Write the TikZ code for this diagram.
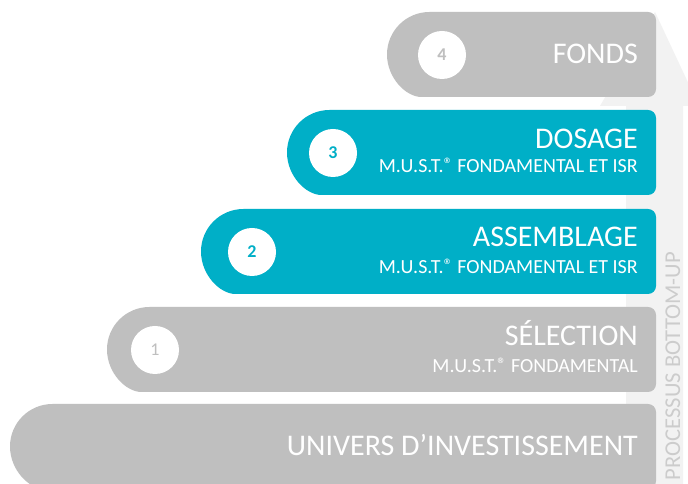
\documentclass[tikz,border=0pt]{standalone}
\usepackage{fontspec}
\setmainfont{Carlito}
\usepackage{tikz}
\definecolor{qqafc7}{rgb}{0.,0.686,0.780}
\definecolor{bfbfbf}{rgb}{0.749,0.749,0.749}
\definecolor{f2f2f2}{rgb}{0.949,0.949,0.949}
\definecolor{cccccc}{rgb}{0.8,0.8,0.8}
\newcommand{\stagebar}[3]{\fill[color=#3] (#1+42.5,#2) arc[start angle=270,end angle=90,radius=42.5pt] [rounded corners=8pt] -- (656,#2+85) -- (656,#2) -- cycle;}
\newcommand{\regmark}{\raisebox{2pt}{\fontsize{18}{18}\selectfont ®}}
\tikzstyle{every node}=[inner sep=0pt]
\tikzset{title/.style={anchor=base east,text=white,font=\fontsize{30}{30}\selectfont},
    subtitle/.style={anchor=base east,text=white,font=\fontsize{20}{20}\selectfont},
    num/.style={circle,fill=white,minimum size=48pt,font=\fontsize{18}{18}\selectfont}}

\begin{document}
\begin{tikzpicture}[line cap=round,line join=round,x=1pt,y=1pt]
    \clip(0,0) rectangle (688,484);
    \fill[color=white] (0,0) rectangle (688,484);
    % background arrow
    \fill[color=f2f2f2] (626,-5) -- (626,378) -- (600,378) -- (655,472) -- (699,378) -- (683,378) -- (683,-5) -- cycle;
    \node[rotate=90,anchor=base east,text=cccccc,font=\fontsize{22.6}{22.6}\selectfont] (process) at (680,232) {PROCESSUS BOTTOM-UP};
    % bars
    \stagebar{387}{387}{bfbfbf}
    \stagebar{287}{289}{qqafc7}
    \stagebar{201}{190}{qqafc7}
    \stagebar{107}{92}{bfbfbf}
    \stagebar{10}{-5}{bfbfbf}
    % numbers
    \node[num,text=bfbfbf] (n4) at (442,429) {\bfseries 4};
    \node[num,text=qqafc7] (n3) at (333,331) {\bfseries 3};
    \node[num,text=qqafc7] (n2) at (252,232) {\bfseries 2};
    \node[num,text=bfbfbf] (n1) at (155,134) {1};
    % texts
    \node[title] (fonds) at (638,420) {FONDS};
    \node[title] (dosage) at (638,335) {DOSAGE};
    \node[subtitle] (dosagesub) at (638,311) {M.U.S.T.\regmark{} FONDAMENTAL ET ISR};
    \node[title] (assemblage) at (638,237) {ASSEMBLAGE};
    \node[subtitle] (assemblagesub) at (638,210) {M.U.S.T.\regmark{} FONDAMENTAL ET ISR};
    \node[title] (selection) at (638,138) {SÉLECTION};
    \node[subtitle] (selectionsub) at (638,111) {M.U.S.T.\regmark{} FONDAMENTAL};
    \node[title] (univers) at (638,28) {UNIVERS D’INVESTISSEMENT};
\end{tikzpicture}
\end{document}
